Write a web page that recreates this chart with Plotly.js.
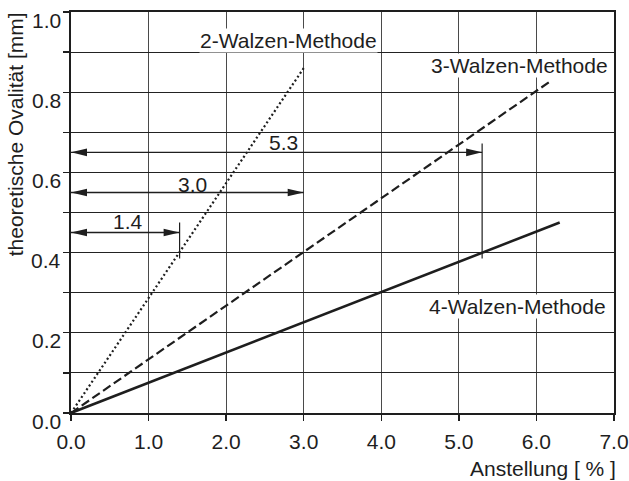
<!DOCTYPE html>
<html>
<head>
<meta charset="utf-8">
<script src="https://cdn.plot.ly/plotly-3.0.1.min.js"></script>
<style>html,body{margin:0;padding:0;background:#fff;}#chart{width:629px;height:481px;}</style>
</head>
<body>
<div id="chart"></div>
<script>
// ---- data ----
const xTickVals = [0, 1, 2, 3, 4, 5, 6, 7];
const xTickText = ['0.0', '1.0', '2.0', '3.0', '4.0', '5.0', '6.0', '7.0'];
const yTickVals = [0, 0.2, 0.4, 0.6, 0.8, 1.0];
const yTickText = ['0.0', '0.2', '0.4', '0.6', '0.8', '1.0'];

const seriesNames = ['2-Walzen-Methode', '3-Walzen-Methode', '4-Walzen-Methode'];
const method2X = [0.0, 3.0];
const method2Y = [0.0, 0.86];
const method3X = [0.0, 6.2];
const method3Y = [0.0, 0.83];
const method4X = [0.0, 6.3];
const method4Y = [0.0, 0.475];

const dimValues = [1.4, 3.0, 5.3];
const dimLevels = [0.45, 0.55, 0.65];
const dimLabels = ['1.4', '3.0', '5.3'];
const markerX = [1.4, 5.3];
const markerTop = [0.475, 0.672];
const markerBottom = [0.385, 0.385];

const xTitle = 'Anstellung [ % ]';
const yTitle = 'theoretische Ovalität [mm]';

// ---- style ----
const ink = '#1e1e1e';
const font = 'Liberation Sans, Arial, sans-serif';
const fs = 21;

const traces = [
  {x: method2X, y: method2Y, mode: 'lines', line: {color: ink, width: 2.2, dash: '2px,2.6px'}, name: seriesNames[0]},
  {x: method3X, y: method3Y, mode: 'lines', line: {color: ink, width: 2.2, dash: '9px,4px'}, name: seriesNames[1]},
  {x: method4X, y: method4Y, mode: 'lines', line: {color: ink, width: 2.6}, name: seriesNames[2]}
];

const shapes = [];
const annotations = [];

dimValues.forEach((v, i) => {
  const lv = dimLevels[i];
  shapes.push({type: 'line', xref: 'x', yref: 'y', x0: 0, x1: v, y0: lv, y1: lv, line: {color: ink, width: 1.4}});
  shapes.push({type: 'path', xref: 'x', yref: 'y', xsizemode: 'pixel', ysizemode: 'pixel', xanchor: 0, yanchor: lv,
    path: 'M0,0 L16,3.8 L16,-3.8 Z', fillcolor: ink, line: {width: 0}});
  shapes.push({type: 'path', xref: 'x', yref: 'y', xsizemode: 'pixel', ysizemode: 'pixel', xanchor: v, yanchor: lv,
    path: 'M0,0 L-16,3.8 L-16,-3.8 Z', fillcolor: ink, line: {width: 0}});
});
markerX.forEach((v, i) => {
  shapes.push({type: 'line', xref: 'x', yref: 'y', x0: v, x1: v, y0: markerBottom[i], y1: markerTop[i], line: {color: ink, width: 1.2}});
});

const dimLabelPos = [[0.74, 0.477], [1.56, 0.571], [2.74, 0.674]];
dimLabels.forEach((t, i) => {
  annotations.push({text: t, x: dimLabelPos[i][0], y: dimLabelPos[i][1], xref: 'x', yref: 'y', showarrow: false,
    font: {family: font, size: fs, color: ink}, xanchor: 'center', yanchor: 'middle'});
});

const methodLabelPos = [[2.81, 0.93], [5.78, 0.866], [5.75, 0.265]];
seriesNames.forEach((t, i) => {
  annotations.push({text: t, x: methodLabelPos[i][0], y: methodLabelPos[i][1], xref: 'x', yref: 'y', showarrow: false,
    font: {family: font, size: fs, color: ink}, xanchor: 'center', yanchor: 'middle', bgcolor: '#ffffff', borderpad: 0});
});

yTickVals.forEach((v, i) => {
  annotations.push({text: yTickText[i], x: 0, y: v, xref: 'paper', yref: 'y', showarrow: false,
    xanchor: 'right', yanchor: 'middle', xshift: -8, yshift: -8, font: {family: font, size: fs, color: ink}});
});

annotations.push({text: yTitle, textangle: -90, x: 0, y: 0.695, xref: 'paper', yref: 'y', showarrow: false,
  xanchor: 'center', yanchor: 'middle', xshift: -56, font: {family: font, size: fs, color: ink}});
annotations.push({text: xTitle, x: 1, y: 0, xref: 'paper', yref: 'paper', showarrow: false,
  xanchor: 'right', yanchor: 'middle', xshift: 4, yshift: -55, font: {family: font, size: fs, color: ink}});

const layout = {
  width: 629, height: 481,
  margin: {l: 71, r: 15, t: 12, b: 68, pad: 0},
  paper_bgcolor: '#ffffff', plot_bgcolor: '#ffffff',
  showlegend: false,
  font: {family: font, size: fs, color: ink},
  xaxis: {
    range: [0, 7], tickvals: xTickVals, ticktext: xTickText,
    ticks: 'outside', ticklen: 6, tickwidth: 1.4, tickcolor: ink,
    showgrid: true, gridcolor: '#4a4a4a', gridwidth: 1.2,
    showline: true, linecolor: ink, linewidth: 1.6, mirror: true,
    zeroline: false, ticklabelstandoff: 3,
    tickfont: {family: font, size: fs, color: ink}
  },
  yaxis: {
    range: [0, 1], dtick: 0.1, tick0: 0,
    ticks: 'outside', ticklen: 6, tickwidth: 1.4, tickcolor: ink,
    showticklabels: false,
    showgrid: true, gridcolor: '#222222', gridwidth: 1.2,
    showline: true, linecolor: ink, linewidth: 1.6, mirror: true,
    zeroline: false
  },
  shapes: shapes,
  annotations: annotations
};

Plotly.newPlot('chart', traces, layout, {staticPlot: true, displayModeBar: false});
</script>
</body>
</html>
